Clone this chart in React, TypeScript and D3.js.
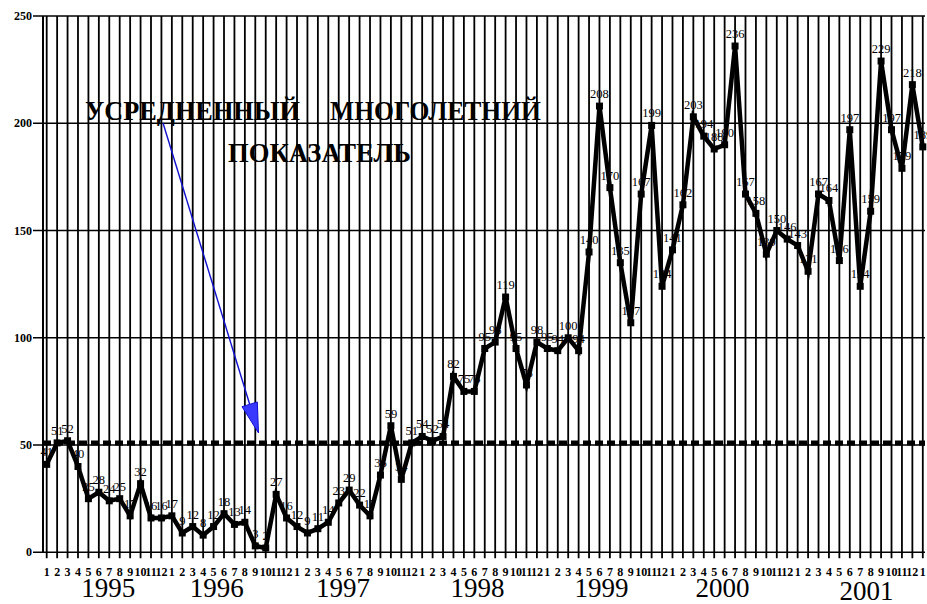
import React from "react";
import * as d3 from "d3";

const years = ["1995", "1996", "1997", "1998", "1999", "2000", "2001"];
const monthNames = ["1", "2", "3", "4", "5", "6", "7", "8", "9", "10", "11", "12"];

const values1995 = [41, 51, 52, 40, 25, 28, 24, 25, 17, 32, 16, 16];
const values1996 = [17, 9, 12, 8, 12, 18, 13, 14, 3, 2, 27, 16];
const values1997 = [12, 9, 11, 14, 23, 29, 22, 17, 36, 59, 34, 51];
const values1998 = [54, 52, 54, 82, 75, 75, 95, 98, 119, 95, 78, 98];
const values1999 = [95, 94, 100, 94, 140, 208, 170, 135, 107, 167, 199, 124];
const values2000 = [141, 162, 203, 194, 188, 190, 236, 167, 158, 139, 150, 146];
const values2001 = [143, 131, 167, 164, 136, 197, 124, 159, 229, 197, 179, 218];
const values2002 = [189];

const values = [
  ...values1995, ...values1996, ...values1997, ...values1998,
  ...values1999, ...values2000, ...values2001, ...values2002,
];
const monthLabels = values.map((_, i) => monthNames[i % 12]);

const averageValue = 51;
const yTicks = [0, 50, 100, 150, 200, 250];
const annotationLine1 = ["УСРЕДНЕННЫЙ", "МНОГОЛЕТНИЙ"];
const annotationLine2 = "ПОКАЗАТЕЛЬ";

// layout (category-axis positions of the year captions, in month index units)
const yearLabelMonth = [5.9, 16.3, 28.4, 41.3, 53.2, 64.8, 78.6];

const W = 927;
const H = 604;
const FONT = "'Liberation Serif', 'DejaVu Serif', serif";

export default function App() {
  const x = d3.scaleLinear().domain([0, values.length - 1]).range([46.7, 922.8]);
  const y = d3.scaleLinear().domain([0, 250]).range([552.3, 16]);
  const line = d3
    .line<number>()
    .x((_, i) => x(i))
    .y((d) => y(d));

  const axisX = 43;
  const rightX = 925;

  // arrow geometry
  const ax0 = 163, ay0 = 123, tipX = 258.5, tipY = 433;
  const dx = tipX - ax0, dy = tipY - ay0;
  const len = Math.hypot(dx, dy);
  const ux = dx / len, uy = dy / len;
  const headLen = 30, headHalf = 8;
  const bx = tipX - ux * headLen, by = tipY - uy * headLen;
  const head = [
    [tipX, tipY],
    [bx - uy * headHalf, by + ux * headHalf],
    [bx + uy * headHalf, by - ux * headHalf],
  ];

  return (
    <div style={{ position: "absolute", left: 0, top: 0 }}>
      <svg width={W} height={H} style={{ display: "block", background: "#fff" }}>
        <rect width={W} height={H} fill="#fff" />
        {/* horizontal grid */}
        {yTicks.map((t) => (
          <line key={"h" + t} x1={33} x2={rightX} y1={y(t)} y2={y(t)} stroke="#000" strokeWidth={1.6} />
        ))}
        {/* vertical grid */}
        {values.map((_, i) => (
          <line key={"v" + i} x1={x(i)} x2={x(i)} y1={y(250)} y2={y(0) + 6} stroke="#000" strokeWidth={1.8} />
        ))}
        <line x1={axisX} x2={axisX} y1={y(250)} y2={y(0)} stroke="#000" strokeWidth={2} />
        {/* y tick labels */}
        {yTicks.map((t) => (
          <text key={"yt" + t} x={32} y={y(t) + 4} textAnchor="end" fontFamily={FONT} fontSize={12} fontWeight="bold">
            {t}
          </text>
        ))}
        {/* average dashed line */}
        <line x1={axisX} x2={rightX} y1={y(averageValue)} y2={y(averageValue)} stroke="#000" strokeWidth={5} strokeDasharray="8 4" />
        {/* value labels (under the line, as in the reference) */}
        {values.map((v, i) => (
          <text key={"l" + i} x={x(i)} y={y(v) - 8} textAnchor="middle" fontFamily={FONT} fontSize={12.5} fill="#000">
            {v}
          </text>
        ))}
        {/* data line */}
        <path d={line(values) || ""} fill="none" stroke="#000" strokeWidth={4.5} strokeLinejoin="miter" />
        {values.map((v, i) => (
          <rect key={"m" + i} x={x(i) - 3.5} y={y(v) - 3.5} width={7} height={7} fill="#000" />
        ))}
        {/* month labels */}
        {monthLabels.map((m, i) => (
          <text key={"ml" + i} x={x(i)} y={576} textAnchor="middle" fontFamily={FONT} fontSize={12} fontWeight="bold">
            {m}
          </text>
        ))}
        {/* year labels */}
        {years.map((yr, k) => (
          <text key={yr} x={x(yearLabelMonth[k])} y={k === years.length - 1 ? 600 : 597} textAnchor="middle" fontFamily={FONT} fontSize={27}>
            {yr}
          </text>
        ))}
        {/* annotation */}
        <text x={85} y={120} fontFamily={FONT} fontSize={27} fontWeight="bold" textLength={215} lengthAdjust="spacingAndGlyphs">
          {annotationLine1[0]}
        </text>
        <text x={330} y={120} fontFamily={FONT} fontSize={27} fontWeight="bold" textLength={211} lengthAdjust="spacingAndGlyphs">
          {annotationLine1[1]}
        </text>
        <text x={228} y={162} fontFamily={FONT} fontSize={27} fontWeight="bold" textLength={183} lengthAdjust="spacingAndGlyphs">
          {annotationLine2}
        </text>
        {/* arrow */}
        <line x1={ax0} y1={ay0} x2={bx} y2={by} stroke="#1010d0" strokeWidth={1.4} />
        <polygon points={head.map((p) => p.join(",")).join(" ")} fill="#3a3aff" stroke="#1010d0" strokeWidth={1} />
      </svg>
    </div>
  );
}
